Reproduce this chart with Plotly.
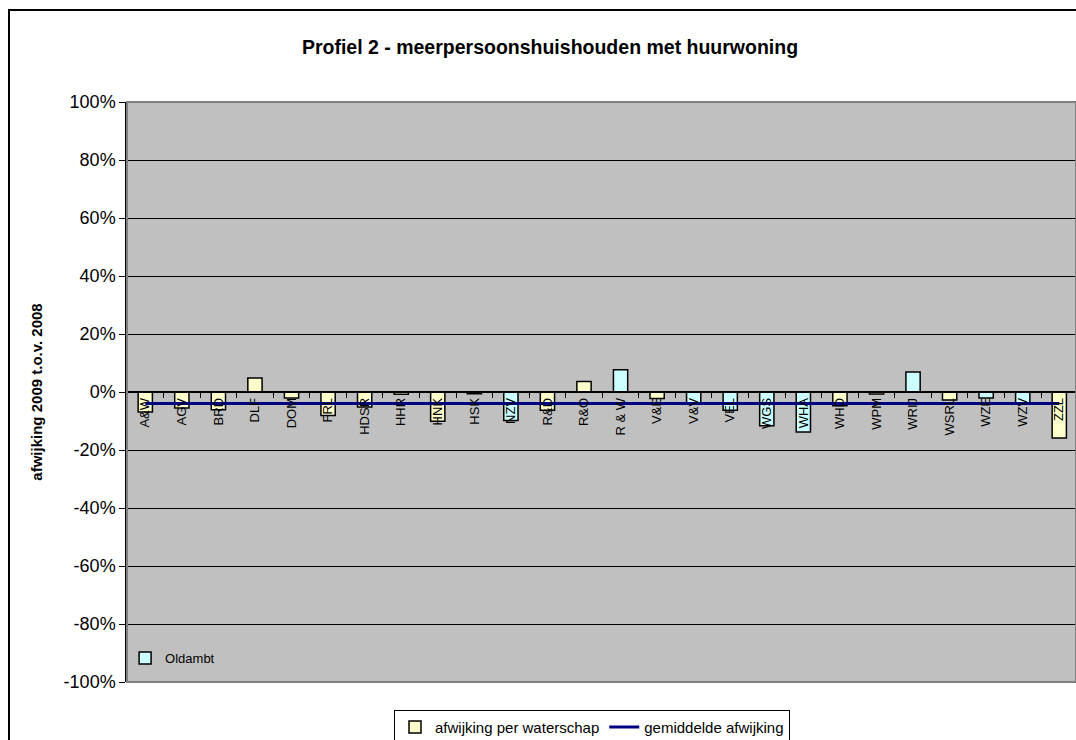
import plotly.graph_objects as go

# waterschappen en afwijking 2009 t.o.v. 2008 (fractie)
waterschappen = ['A&W', 'AGV', 'BRD', 'DLF', 'DOM', 'FRL', 'HDSR', 'HHR', 'HNK', 'HSK',
                 'NZV', 'R&D', 'R&O', 'R & W', 'V&E', 'V&V', 'VEL', 'WGS', 'WHA', 'WHD',
                 'WPM', 'WRIJ', 'WSRL', 'WZE', 'WZV', 'ZZL']
afwijking = [-0.069, -0.055, -0.061, 0.048, -0.021, -0.081, -0.052, -0.008, -0.101, -0.006,
             -0.098, -0.063, 0.036, 0.077, -0.022, -0.039, -0.063, -0.116, -0.138, -0.047,
             -0.007, 0.069, -0.028, -0.021, -0.039, -0.159]
# waterschappen in lichtblauw (Oldambt-markering)
oldambt = ['NZV', 'R & W', 'V&V', 'VEL', 'WGS', 'WHA', 'WRIJ', 'WZE', 'WZV']
gemiddelde = -0.040

y_ticks = [-1.0, -0.8, -0.6, -0.4, -0.2, 0.0, 0.2, 0.4, 0.6, 0.8, 1.0]
y_labels = ['-100%', '-80%', '-60%', '-40%', '-20%', '0%', '20%', '40%', '60%', '80%', '100%']

geel = [v if w not in oldambt else None for w, v in zip(waterschappen, afwijking)]
blauw = [v if w in oldambt else None for w, v in zip(waterschappen, afwijking)]

FONT = 'Liberation Sans, Arial, sans-serif'

fig = go.Figure()
fig.add_trace(go.Bar(x=waterschappen, y=geel, name='afwijking per waterschap', width=0.39,
                     marker=dict(color='#FFFFCC', line=dict(color='black', width=1.5))))
fig.add_trace(go.Bar(x=waterschappen, y=blauw, name='Oldambt', width=0.39, legend='legend2',
                     marker=dict(color='#CCFFFF', line=dict(color='black', width=1.5))))
fig.add_trace(go.Scatter(x=waterschappen, y=[gemiddelde] * len(waterschappen), mode='lines',
                         name='gemiddelde afwijking', line=dict(color='#000080', width=3)))

# plotvlak op scherm vanaf 127 px, 102..682 px hoog (body-marge op 0 gezet)
W = 1076
PW, PH = W - 127, 580
STAP = 36.56  # px per waterschap
fig.update_layout(
    width=W, height=740,
    margin=dict(l=127, r=0, t=102, b=58, autoexpand=False),
    paper_bgcolor='white', plot_bgcolor='#C0C0C0',
    font=dict(family=FONT, color='black'),
    barmode='overlay',
    title=dict(text='<b>Profiel 2 - meerpersoonshuishouden met huurwoning</b>',
               font=dict(size=19.5), x=(550 - 127) / PW, xref='paper', xanchor='center',
               y=1 - 47 / 740, yref='container', yanchor='middle'),
    showlegend=True,
    legend=dict(orientation='h', x=(394 - 127) / PW, xanchor='left', y=-0.048, yanchor='top',
                bgcolor='white', bordercolor='black', borderwidth=1,
                font=dict(size=15), traceorder='normal'),
    legend2=dict(x=-0.002, xanchor='left', y=(682 - 658) / PH, yanchor='middle',
                 bgcolor='rgba(0,0,0,0)', borderwidth=0, font=dict(size=13)),
    xaxis=dict(anchor='free', position=0.5, range=[-0.5, PW / STAP - 0.5],
               showline=True, linecolor='black', linewidth=1.5,
               ticks='outside', tickson='boundaries', ticklen=5, tickcolor='black',
               tickangle=-90, tickfont=dict(size=13), showgrid=False, zeroline=False),
    yaxis=dict(range=[-1, 1], tickvals=y_ticks, ticktext=y_labels, tickfont=dict(size=18),
               showline=True, linecolor='black', linewidth=1.5,
               ticks='outside', ticklen=6, tickcolor='black',
               showgrid=True, gridcolor='black', gridwidth=1, zeroline=False,
               title=dict(text='<b>afwijking 2009 t.o.v. 2008</b>', font=dict(size=15),
                          standoff=17)),
    shapes=[
        dict(type='rect', xref='paper', yref='paper', x0=0, x1=1, y0=0, y1=1,
             line=dict(color='#808080', width=2), layer='above'),
        dict(type='rect', xref='paper', yref='paper', x0=(9 - 127) / PW, x1=1.05,
             y0=-0.2, y1=(682 - 10) / PH, line=dict(color='black', width=2)),
    ],
)

fig.write_html('out.html', config={'displayModeBar': False},
               post_script="document.body.style.margin='0';document.body.style.overflow='hidden';")
